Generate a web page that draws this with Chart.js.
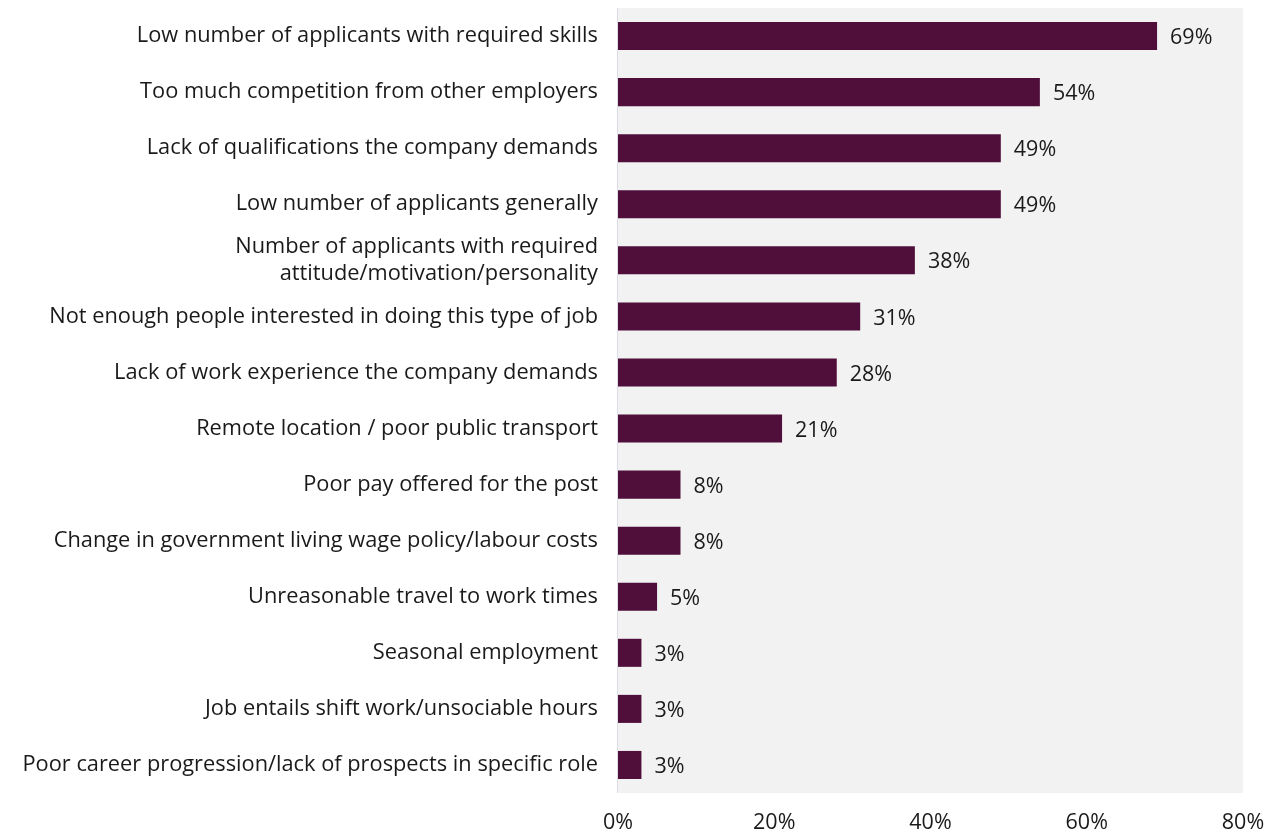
<!DOCTYPE html>
<html>
<head>
<meta charset="utf-8">
<script src="https://cdn.jsdelivr.net/npm/chart.js@4.4.1/dist/chart.umd.min.js"></script>
<style>
  html, body { margin: 0; padding: 0; background: #fff; }
  #wrap { width: 1276px; height: 834px; }
</style>
</head>
<body>
<div id="wrap"><canvas id="chart"></canvas></div>
<script>
const reasons = [
    "Low number of applicants with required skills",
    "Too much competition from other employers",
    "Lack of qualifications the company demands",
    "Low number of applicants generally",
    ["Number of applicants with required", "attitude/motivation/personality"],
    "Not enough people interested in doing this type of job",
    "Lack of work experience the company demands",
    "Remote location / poor public transport",
    "Poor pay offered for the post",
    "Change in government living wage policy/labour costs",
    "Unreasonable travel to work times",
    "Seasonal employment",
    "Job entails shift work/unsociable hours",
    "Poor career progression/lack of prospects in specific role"
];
const shares = [69, 54, 49, 49, 38, 31, 28, 21, 8, 8, 5, 3, 3, 3];
const xTicks = [0, 20, 40, 60, 80];

const FONT = "'Open Sans', sans-serif";
const TEXT = "#1a1a1a";

/* grey plot background + thin left axis */
const plotBg = {
    id: "plotBg",
    beforeDraw(chart) {
        const { ctx, chartArea: a } = chart;
        ctx.save();
        ctx.fillStyle = "#f2f2f2";
        ctx.fillRect(a.left, a.top, a.right - a.left, a.bottom - a.top);
        ctx.strokeStyle = "#dcdce6";
        ctx.lineWidth = 1;
        ctx.beginPath();
        ctx.moveTo(a.left - 0.5, a.top);
        ctx.lineTo(a.left - 0.5, a.bottom);
        ctx.stroke();
        ctx.restore();
    }
};

/* value labels at bar ends */
const barLabels = {
    id: "barLabels",
    afterDatasetsDraw(chart) {
        const { ctx } = chart;
        const meta = chart.getDatasetMeta(0);
        ctx.save();
        ctx.font = "21.5px " + FONT;
        ctx.fillStyle = TEXT;
        ctx.textAlign = "left";
        ctx.textBaseline = "middle";
        meta.data.forEach((bar, i) => {
            ctx.fillText(shares[i] + "%", bar.x + 13, bar.y + 2);
        });
        ctx.restore();
    }
};

new Chart(document.getElementById("chart"), {
    type: "bar",
    data: {
        labels: reasons,
        datasets: [{
            data: shares,
            backgroundColor: "#4f0f3a",
            borderWidth: 0,
            barPercentage: 0.5,
            categoryPercentage: 1.0
        }]
    },
    options: {
        indexAxis: "y",
        responsive: true,
        maintainAspectRatio: false,
        animation: false,
        layout: { padding: { top: 8, right: 33, bottom: 0, left: 0 } },
        plugins: {
            legend: { display: false },
            tooltip: { enabled: false }
        },
        scales: {
            x: {
                min: 0,
                max: 80,
                afterBuildTicks(scale) {
                    scale.ticks = xTicks.map(v => ({ value: v }));
                },
                grid: { display: false, drawTicks: false },
                border: { display: false },
                ticks: {
                    padding: 17,
                    autoSkip: false,
                    maxRotation: 0,
                    color: TEXT,
                    font: { family: FONT, size: 21.5 },
                    callback: v => v + "%"
                },
                afterFit(scale) {
                    scale.height = 41;
                    scale.paddingLeft = 0;
                    scale.paddingRight = 0;
                }
            },
            y: {
                grid: { display: false, drawTicks: false },
                border: { display: false },
                ticks: {
                    padding: 20,
                    autoSkip: false,
                    color: TEXT,
                    font: { family: FONT, size: 21.8, lineHeight: 1.28 }
                },
                afterFit(scale) {
                    scale.width = 618;
                    scale.paddingTop = 0;
                    scale.paddingBottom = 0;
                }
            }
        }
    },
    plugins: [plotBg, barLabels]
});
</script>
</body>
</html>
